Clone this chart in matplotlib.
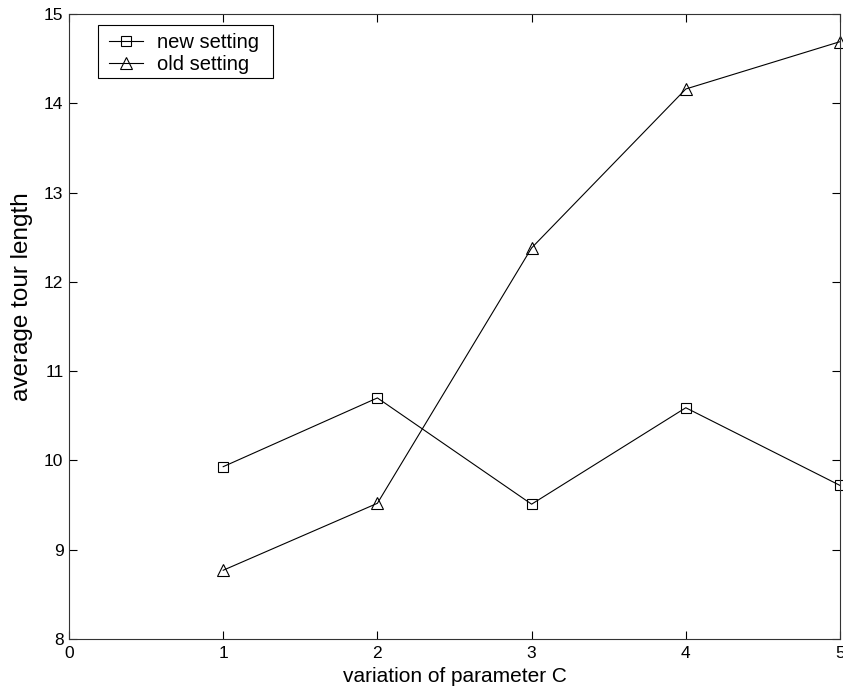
import matplotlib
matplotlib.use("Agg")
import matplotlib.pyplot as plt
from matplotlib.patches import Rectangle

plt.rcParams['font.family'] = ['Liberation Sans', 'DejaVu Sans']

x = [1, 2, 3, 4, 5]
new_setting = [9.93, 10.70, 9.51, 10.59, 9.72]
old_setting = [8.77, 9.52, 12.38, 14.16, 14.69]
xticks = [0, 1, 2, 3, 4, 5]
yticks = [8, 9, 10, 11, 12, 13, 14, 15]

W, H = 843, 693
fig = plt.figure(figsize=(W/100, H/100), dpi=100)
ax = fig.add_axes([69/W, 54/H, 771/W, 625/H])

ax.plot(x, new_setting, color='black', lw=0.8, marker='s', ms=6.5,
        mfc='none', mec='black', mew=0.8, label='new setting', clip_on=False)
ax.plot(x, old_setting, color='black', lw=0.8, marker='^', ms=9,
        mfc='none', mec='black', mew=0.8, label='old setting', clip_on=False)

ax.set_xlim(0, 5)
ax.set_ylim(8, 15)
ax.set_xticks(xticks)
ax.set_yticks(yticks)
ax.tick_params(direction='in', top=True, right=True, length=6, width=0.8,
               labelsize=12.5)
ax.tick_params(axis='x', pad=5)
ax.tick_params(axis='y', pad=4)
for s in ax.spines.values():
    s.set_linewidth(0.8)
    s.set_color('#333333')

ax.set_xlabel('variation of parameter C', fontsize=15, labelpad=4)
ax.set_ylabel('average tour length', fontsize=17.5)
ax.yaxis.set_label_coords(-36/771, (639 - 297)/625)

# legend frame
frame = Rectangle((98/W, 1 - 78/H), 175/W, 53/H, transform=fig.transFigure,
                  facecolor='white', edgecolor='black', lw=0.8, zorder=4,
                  clip_on=False)
ax.add_patch(frame)

leg = ax.legend(loc='upper left', bbox_to_anchor=(32/771, 1 - 11/625),
                fontsize=14.5, frameon=False,
                borderpad=0.4, labelspacing=0.15, handlelength=1.7,
                handletextpad=0.7, borderaxespad=0)
leg.set_zorder(5)

fig.savefig('out.png', dpi=100)
